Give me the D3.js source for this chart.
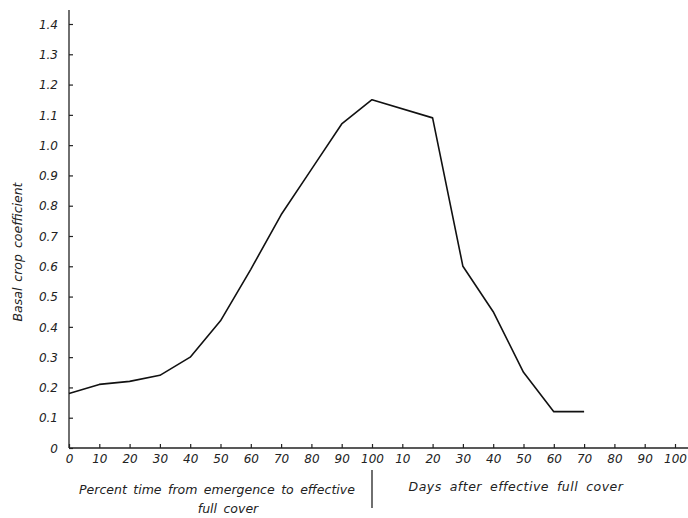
<!DOCTYPE html>
<html>
<head>
<meta charset="utf-8">
<script src="https://cdn.jsdelivr.net/npm/d3@7"></script>
<style>
  html, body { margin: 0; padding: 0; background: #fff; }
  svg { display: block; }
  text { font-family: "DejaVu Sans", sans-serif; font-style: italic; fill: #222; }
</style>
</head>
<body>
<div id="chart"></div>
<script>
// Basal crop coefficient over the season: first as percent of time from
// emergence to effective full cover, then as days after effective full cover.
const percentTicks = [0, 10, 20, 30, 40, 50, 60, 70, 80, 90, 100];
const dayTicks = [10, 20, 30, 40, 50, 60, 70, 80, 90, 100];
const yTicks = [0, 0.1, 0.2, 0.3, 0.4, 0.5, 0.6, 0.7, 0.8, 0.9, 1.0, 1.1, 1.2, 1.3, 1.4];

// Growth phase (percent time to effective full cover)
const growthPercent = [0, 10, 20, 30, 40, 50, 60, 70, 80, 90, 100];
const growthKc = [0.18, 0.21, 0.22, 0.24, 0.30, 0.42, 0.59, 0.77, 0.92, 1.07, 1.15];
// After effective full cover (days)
const afterDays = [20, 30, 40, 50, 60, 70];
const afterKc = [1.09, 0.60, 0.45, 0.25, 0.12, 0.12];

const width = 688, height = 518;

const svg = d3.select("#chart").append("svg")
  .attr("width", width).attr("height", height);

// One continuous time axis: 0..100 is percent, 100..200 is 100 + days.
const x = d3.scaleLinear().domain([0, 200]).range([69, 675]);
const y = d3.scaleLinear().domain([0, 1.4]).range([448, 24]);

const points = growthPercent.map((p, i) => ({ t: p, v: growthKc[i] }))
  .concat(afterDays.map((d, i) => ({ t: 100 + d, v: afterKc[i] })));

// Y axis
const yAxis = d3.axisRight(y).tickValues(yTicks).tickSize(4)
  .tickFormat(d => d === 0 ? "0" : d3.format(".1f")(d));
const gy = svg.append("g").attr("transform", `translate(${x(0)},0)`).call(yAxis);
gy.select(".domain").remove();
gy.selectAll(".tick line").attr("stroke", "#222").attr("stroke-width", 1.2);
gy.selectAll(".tick text").attr("x", -11).attr("text-anchor", "end")
  .attr("font-size", 12).attr("dy", "0.35em")
  .attr("font-family", "DejaVu Sans Condensed, DejaVu Sans, sans-serif");
svg.append("line")
  .attr("x1", x(0)).attr("x2", x(0)).attr("y1", 10).attr("y2", y(0))
  .attr("stroke", "#222").attr("stroke-width", 1.3);

// X axis: percent ticks then day ticks
const tickVals = percentTicks.map(p => ({ t: p, label: p }))
  .concat(dayTicks.map(d => ({ t: 100 + d, label: d })));
const xAxis = d3.axisTop(x).tickValues(tickVals.map(d => d.t)).tickSize(4)
  .tickFormat((d, i) => tickVals[i].label);
const gx = svg.append("g").attr("transform", `translate(0,${y(0)})`).call(xAxis);
gx.select(".domain").remove();
gx.selectAll(".tick line").attr("stroke", "#222").attr("stroke-width", 1.2);
gx.selectAll(".tick text").attr("y", 15).attr("dy", "0").attr("font-size", 12)
  .attr("font-family", "DejaVu Sans Condensed, DejaVu Sans, sans-serif");
svg.append("line")
  .attr("x1", x(0)).attr("x2", width).attr("y1", y(0)).attr("y2", y(0))
  .attr("stroke", "#222").attr("stroke-width", 1.3);

// Kc curve
svg.append("path").datum(points)
  .attr("fill", "none").attr("stroke", "#111").attr("stroke-width", 1.6)
  .attr("stroke-linejoin", "round")
  .attr("d", d3.line().x(d => x(d.t)).y(d => y(d.v)));

// Axis titles
svg.append("text")
  .attr("transform", `translate(22,${252}) rotate(-90)`)
  .attr("text-anchor", "middle").attr("font-size", 12.5)
  .attr("word-spacing", 2)
  .text("Basal crop coefficient");

svg.append("text").attr("x", 217).attr("y", 494).attr("text-anchor", "middle")
  .attr("font-size", 12.5).attr("word-spacing", 2.5)
  .text("Percent time from emergence to effective");
svg.append("text").attr("x", 228).attr("y", 513).attr("text-anchor", "middle")
  .attr("font-size", 12.5).attr("word-spacing", 2.5)
  .text("full cover");
svg.append("text").attr("x", 516).attr("y", 491).attr("text-anchor", "middle")
  .attr("font-size", 12.5).attr("word-spacing", 3.5).attr("letter-spacing", 0.5)
  .text("Days after effective full cover");

// Divider between the two time scales
svg.append("line")
  .attr("x1", x(100)).attr("x2", x(100)).attr("y1", 470).attr("y2", 508)
  .attr("stroke", "#222").attr("stroke-width", 1.3);
</script>
</body>
</html>
